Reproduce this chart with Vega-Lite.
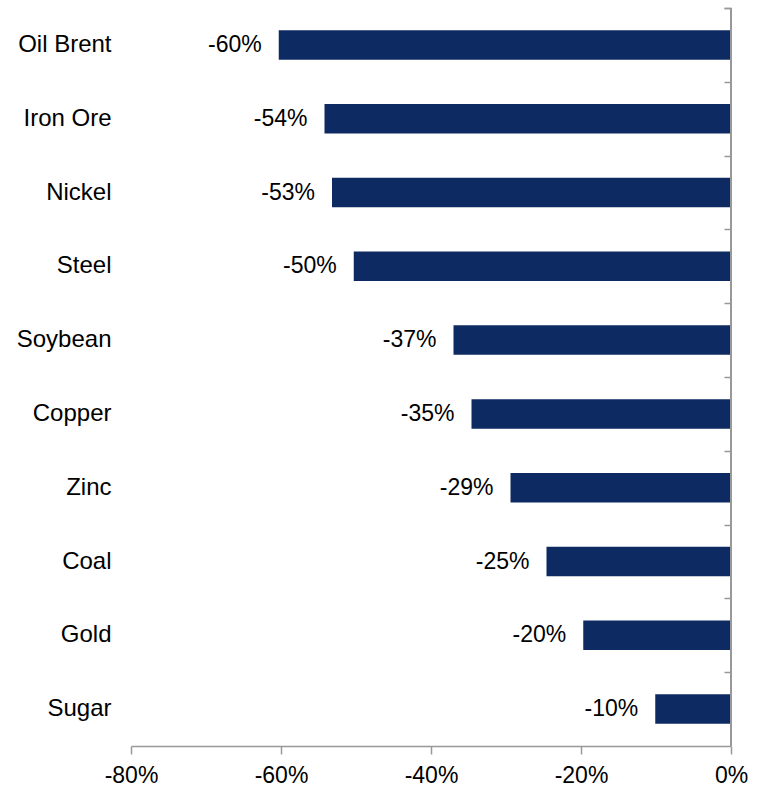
{
  "$schema": "https://vega.github.io/schema/vega-lite/v6.json",
  "width": 600,
  "height": 738,
  "autosize": "none",
  "padding": {"left": 131, "top": 8, "right": 32, "bottom": 40},
  "config": {
    "view": {"stroke": null},
    "font": "Liberation Sans",
    "locale": {"number": {"decimal": ".", "thousands": ",", "grouping": [3], "currency": ["$", ""], "minus": "-"}},
    "axis": {"labelFont": "Liberation Sans", "labelColor": "#000000", "labelFontSize": 23, "grid": false, "title": null}
  },
  "data": {
    "values": [
      {"commodity": "Oil Brent", "change": -0.603},
      {"commodity": "Iron Ore", "change": -0.542},
      {"commodity": "Nickel", "change": -0.532},
      {"commodity": "Steel", "change": -0.503},
      {"commodity": "Soybean", "change": -0.37},
      {"commodity": "Copper", "change": -0.346},
      {"commodity": "Zinc", "change": -0.294},
      {"commodity": "Coal", "change": -0.246},
      {"commodity": "Gold", "change": -0.197},
      {"commodity": "Sugar", "change": -0.101}
    ]
  },
  "encoding": {
    "x": {
      "field": "change",
      "type": "quantitative",
      "scale": {"domain": [-0.8, 0], "nice": false},
      "axis": {
        "values": [-0.8, -0.6, -0.4, -0.2, 0],
        "format": ".0%",
        "domainColor": "#999999",
        "domainWidth": 1.5,
        "tickColor": "#999999",
        "tickWidth": 1.5,
        "tickSize": 8,
        "labelPadding": 10,
        "labelFlush": false
      }
    }
  },
  "layer": [
    {
      "mark": {"type": "bar", "color": "#0e2a62"},
      "encoding": {
        "y": {
          "field": "commodity",
          "type": "nominal",
          "sort": null,
          "scale": {"paddingInner": 0.6, "paddingOuter": 0.3},
          "axis": {"orient": "left", "domain": false, "ticks": false, "tickSize": 0, "labelPadding": 20, "labelFontSize": 24}
        }
      }
    },
    {
      "mark": {"type": "text", "align": "right", "baseline": "middle", "dx": -17, "fontSize": 23, "color": "#000000", "font": "Liberation Sans"},
      "encoding": {
        "text": {"field": "change", "type": "quantitative", "format": ".0%"},
        "y": {
          "field": "commodity",
          "type": "nominal",
          "sort": null,
          "scale": {"paddingInner": 0.6, "paddingOuter": 0.3},
          "axis": {"orient": "right", "labels": false, "domain": false, "ticks": true, "bandPosition": 0, "tickOffset": -22.1, "tickExtra": true, "tickSize": 7, "tickColor": "#999999", "tickWidth": 1.5, "offset": -7}
        }
      }
    },
    {
      "mark": {"type": "rule", "color": "#999999", "strokeWidth": 1.5},
      "encoding": {
        "x": {"datum": 0}
      }
    }
  ],
  "resolve": {"axis": {"y": "independent"}}
}
